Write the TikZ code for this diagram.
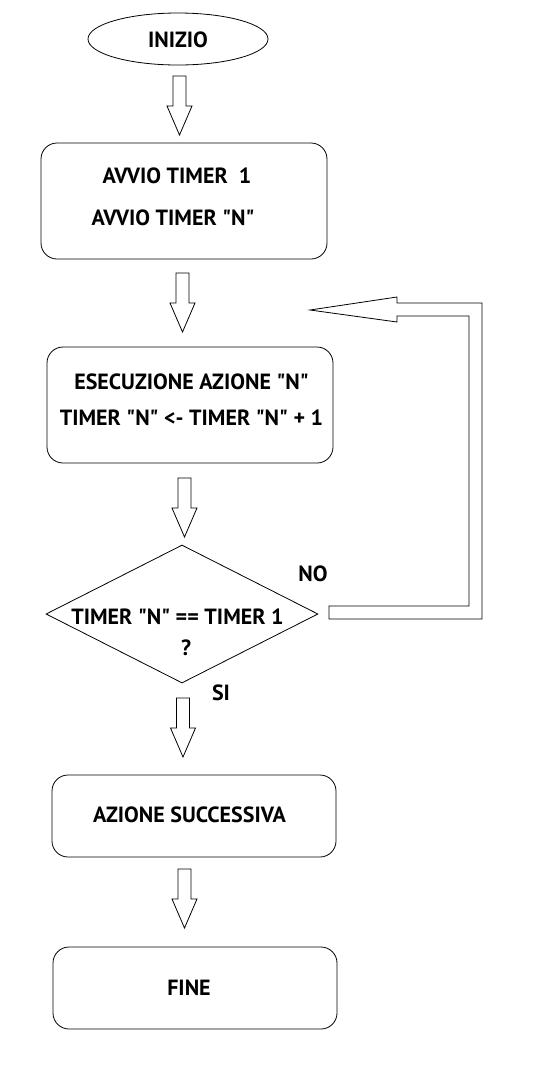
\documentclass[tikz,border=0pt]{standalone}
\usepackage{fontspec}
\newfontfamily\lblfont{PT Sans}
\usetikzlibrary{shapes.geometric}
\tikzset{
  outl/.style={draw=black,line width=0.8pt},
  roundbox/.style={outl,rectangle,rounded corners=16pt,inner sep=0pt},
  lbl/.style={font=\lblfont\bfseries\fontsize{22}{26}\selectfont,inner sep=0pt,anchor=center},
  blockdown/.pic={\draw[outl,line join=miter] (-6.5,0) -- (6.5,0) -- (6.5,30) -- (12.5,30) -- (0,59) -- (-12.5,30) -- (-6.5,30) -- cycle;}
}
\begin{document}
\begin{tikzpicture}[x=1pt,y=-1pt]
\useasboundingbox[fill=white] (0,0) rectangle (533,1072);
% shapes
\node[outl,ellipse,minimum width=180pt,minimum height=52pt,inner sep=0pt] (start) at (178,39) {};
\node[roundbox,minimum width=286pt,minimum height=116pt] (b1) at (184,201) {};
\node[roundbox,minimum width=286pt,minimum height=116pt] (b2) at (190,405) {};
\node[outl,diamond,minimum width=272pt,minimum height=138pt,inner sep=0pt] (dec) at (182,614) {};
\node[roundbox,minimum width=284pt,minimum height=82pt] (b4) at (194,816) {};
\node[roundbox,minimum width=284pt,minimum height=82pt] (b5) at (195,988) {};
% texts
\node[lbl] (t0) at (178,40) {INIZIO};
\node[lbl] (t1a) at (177,176) {AVVIO TIMER\ \ 1};
\node[lbl] (t1b) at (173,218) {AVVIO TIMER "N"};
\node[lbl] (t2a) at (191.5,382) {ESECUZIONE AZIONE "N"};
\node[lbl] (t2b) at (191.5,418) {TIMER "N" <- TIMER "N" + 1};
\node[lbl] (t3a) at (177.5,617) {TIMER "N" == TIMER 1};
\node[lbl] (t3b) at (186,648) {?};
\node[lbl] (no) at (313,574) {NO};
\node[lbl] (si) at (221,693) {SI};
\node[lbl] (t4) at (189.5,815) {AZIONE SUCCESSIVA};
\node[lbl] (t5) at (189,988) {FINE};
% block arrows
\coordinate (a1) at (179.5,76);
\coordinate (a2) at (182.5,273);
\coordinate (a3) at (184.5,478);
\coordinate (a4) at (183,698);
\coordinate (a5) at (184.5,869);
\pic at (a1) {blockdown};
\pic at (a2) {blockdown};
\pic at (a3) {blockdown};
\pic at (a4) {blockdown};
\pic at (a5) {blockdown};
% loop-back arrow
\coordinate (lp1) at (329,606);
\coordinate (lptip) at (310,310);
\draw[outl,line join=miter] (lp1) -- (469,606) -- (469,316) -- (397,316) -- (397,322) -- (lptip)
  -- (397,297) -- (397,303) -- (482,303) -- (482,619) -- (329,619) -- cycle;
\end{tikzpicture}
\end{document}
